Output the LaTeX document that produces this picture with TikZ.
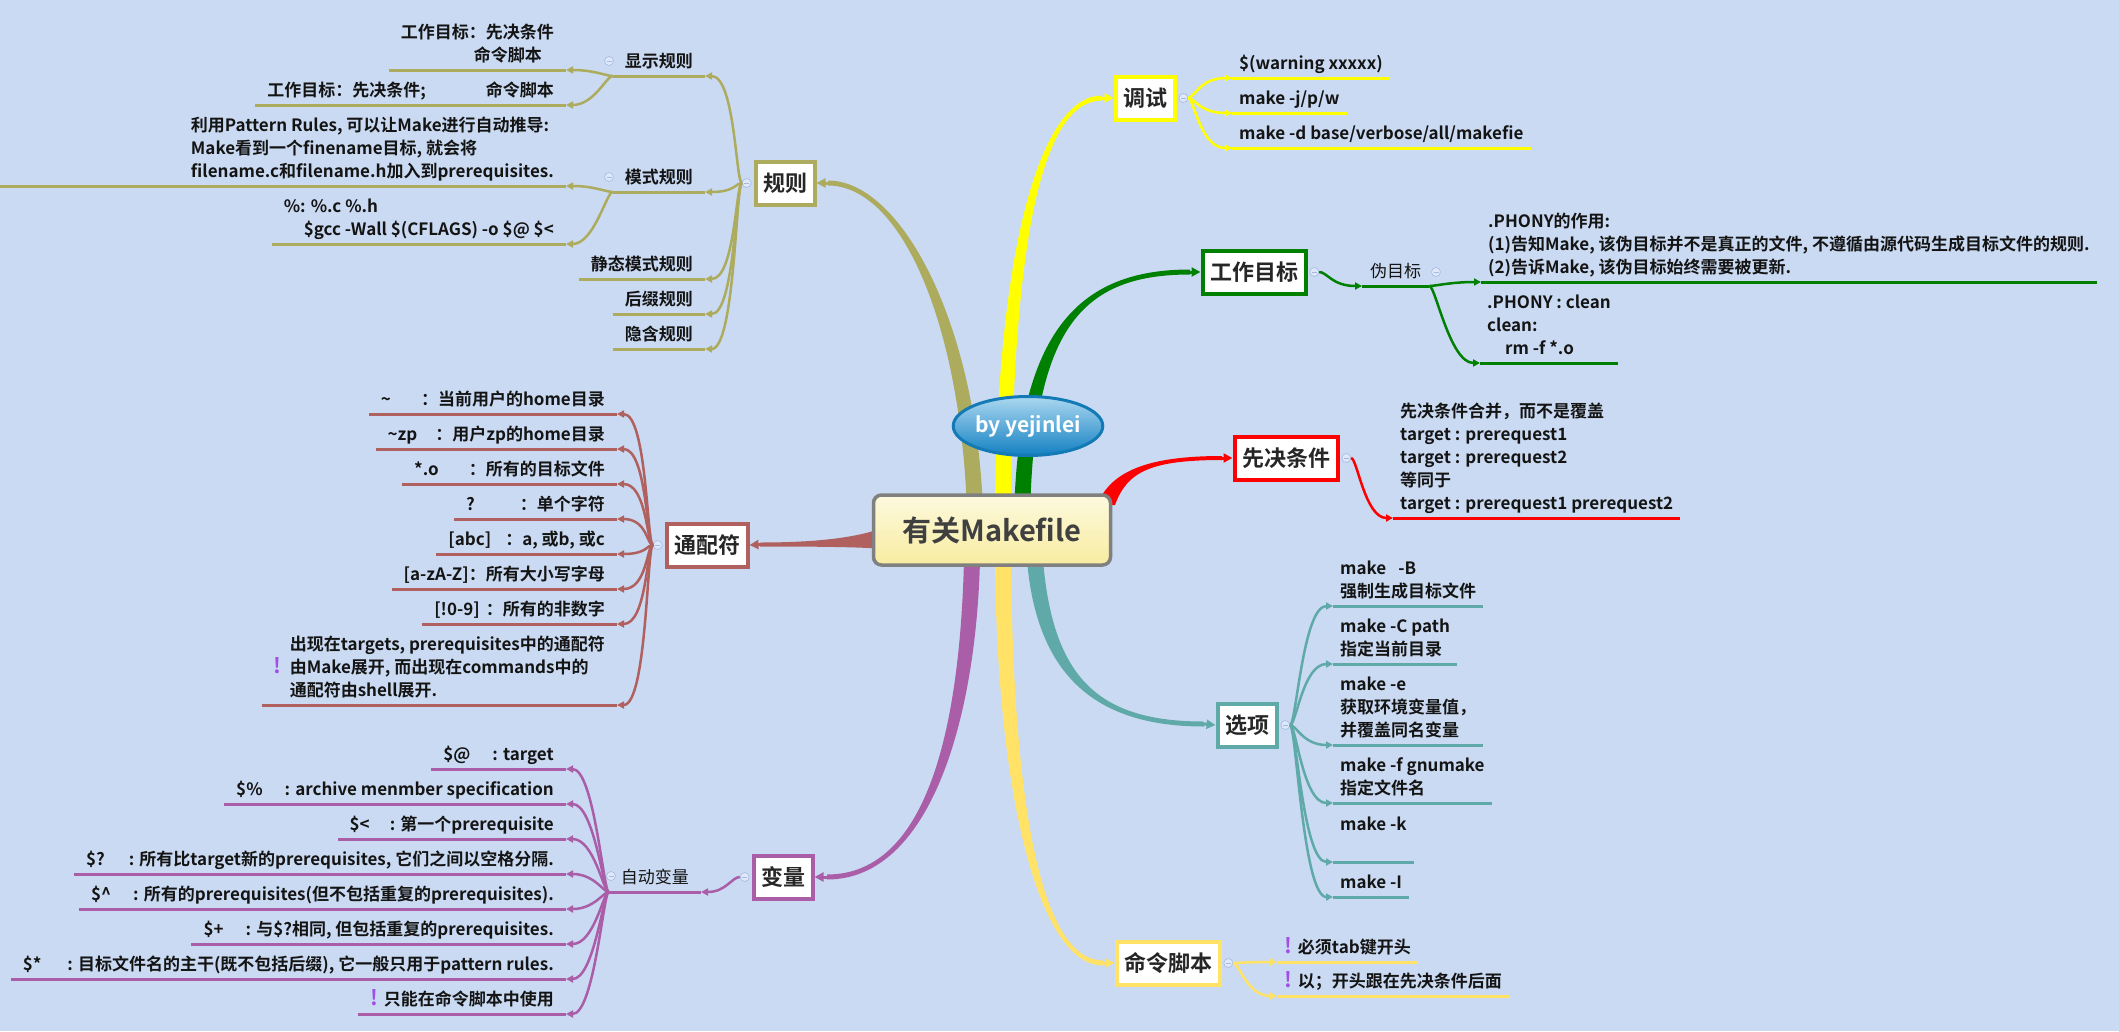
\documentclass[tikz,border=0pt]{standalone}
\usepackage{fontspec}
\setmainfont{Noto Sans CJK SC}[BoldFont={Noto Sans CJK SC Bold}]
\usetikzlibrary{arrows.meta, positioning, shapes.geometric, calc}

\definecolor{bgc}{RGB}{202,218,242}
\definecolor{rulec}{RGB}{173,171,94}
\definecolor{dbgc}{RGB}{255,255,0}
\definecolor{targetc}{RGB}{0,128,0}
\definecolor{prereqc}{RGB}{255,0,0}
\definecolor{wildc}{RGB}{176,96,94}
\definecolor{varc}{RGB}{170,94,168}
\definecolor{scriptc}{RGB}{255,226,102}
\definecolor{optc}{RGB}{95,170,168}
\definecolor{warnc}{RGB}{160,80,230}
\definecolor{textc}{RGB}{20,20,20}
\definecolor{btnc}{RGB}{165,185,225}
\definecolor{btnfill}{RGB}{222,232,250}

\newcommand{\leaffont}{\fontsize{17}{23}\selectfont\bfseries}
\newcommand{\plainfont}{\fontsize{17}{23}\selectfont}
\newcommand{\topicfont}{\fontsize{22}{26}\selectfont\bfseries}
\newcommand{\warnmark}{\textcolor{warnc}{\fontsize{21}{21}\selectfont\bfseries !}}

\tikzset{
  topic/.style={draw=#1, line width=4pt, fill=white, font=\topicfont,
    text={rgb,255:red,38;green,38;blue,38}, inner xsep=7.5pt, minimum height=43pt},
  leafL/.style={font=\leaffont, text=textc, inner xsep=12pt, inner ysep=1.5pt,
    anchor=south east, execute at end node=\strut},
  leafR/.style={font=\leaffont, text=textc, inner xsep=7pt, inner ysep=1.5pt,
    anchor=south west, execute at end node=\strut},
  ul/.style={draw=#1, line width=3pt},
  con/.style={draw=#1, line width=2.5pt, -{Triangle[length=7pt,width=7pt]}},
  tip/.style={draw=#1, line width=3pt, -{Triangle[length=9pt,width=9pt]}},
  btn/.style={circle, draw=btnc, fill=btnfill, minimum size=9pt, inner sep=0pt,
    line width=0.6pt, path picture={
      \draw[btnc, line width=0.7pt] ([xshift=2pt]path picture bounding box.west)
        -- ([xshift=-2pt]path picture bounding box.east);}}
}

\begin{document}
\begin{tikzpicture}[x=1pt, y=-1pt]
  \fill[bgc] (0,0) rectangle (2119,1031);
  \useasboundingbox (0,0) rectangle (2119,1031);
  \coordinate (edge-left) at (0,0);

  % tapered trunks, under the root box
  \fill[rulec] (967,510) .. controls (960,320) and (900,185.5) .. (828,185.5)
    -- (828,180.5) .. controls (900,180.5) and (976,320) .. (983,510) -- cycle;
  \fill[dbgc] (995,510) .. controls (997,250) and (1040,95.5) .. (1102,95.5)
    -- (1102,100.5) .. controls (1040,100.5) and (1013,250) .. (1011,510) -- cycle;
  \fill[targetc] (1014,520) .. controls (1017,330) and (1080,269.5) .. (1190,269.5)
    -- (1190,274.5) .. controls (1080,274.5) and (1033,330) .. (1030,520) -- cycle;
  \fill[prereqc] (1097,505) .. controls (1111,470) and (1150,456) .. (1222,456)
    -- (1222,460) .. controls (1150,460) and (1127,472) .. (1115,505) -- cycle;
  \fill[wildc] (885,527) .. controls (860,537) and (820,542.5) .. (760,542.5)
    -- (760,546.5) .. controls (820,546.5) and (860,547) .. (885,549) -- cycle;
  \fill[varc] (980,560) .. controls (976,720) and (930,879.5) .. (827,879.5)
    -- (827,874.5) .. controls (930,874.5) and (960,720) .. (964,560) -- cycle;
  \fill[scriptc] (1011,560) .. controls (1013,800) and (1040,960.5) .. (1103,960.5)
    -- (1103,965.5) .. controls (1040,965.5) and (997,800) .. (995,560) -- cycle;
  \fill[optc] (1043,560) .. controls (1053,680) and (1100,721.5) .. (1204,721.5)
    -- (1204,726.5) .. controls (1100,726.5) and (1037,680) .. (1027,560) -- cycle;

  % root and signature
  \node[draw={rgb,255:red,128;green,128;blue,128}, line width=3.5pt, rounded corners=8pt,
    top color={rgb,255:red,253;green,249;blue,222}, bottom color={rgb,255:red,248;green,236;blue,160},
    minimum width=237pt, minimum height=70pt, font=\fontsize{29}{34}\selectfont\bfseries,
    text={rgb,255:red,64;green,64;blue,64}] (center) at (992,530) {有关Makefile};
  \node[ellipse, draw={rgb,255:red,20;green,122;blue,182}, line width=3pt,
    top color={rgb,255:red,172;green,216;blue,240}, bottom color={rgb,255:red,18;green,128;blue,194},
    minimum width=140pt, minimum height=59pt, inner sep=0pt,
    font=\fontsize{21}{24}\selectfont\bfseries, text=white] (author) at (1028,426) {by yejinlei};

  % main topics
  \node[topic=rulec] (rules) at (785,183) {规则};
  \node[topic=wildc] (wild) at (707,545) {通配符};
  \node[topic=varc] (vars) at (783,877) {变量};
  \node[topic=dbgc] (dbg) at (1145,98) {调试};
  \node[topic=targetc] (target) at (1254,272) {工作目标};
  \node[topic=prereqc] (prereq) at (1286,458) {先决条件};
  \node[topic=optc] (opts) at (1247,725) {选项};
  \node[topic=scriptc] (script) at (1168,963) {命令脚本};

  \coordinate (rules-in) at (828,183);
  \coordinate (dbg-in) at (1102,98);
  \coordinate (target-in) at (1190,272);
  \coordinate (prereq-in) at (1222,458);
  \coordinate (wild-in) at (760,544.5);
  \coordinate (vars-in) at (827,877);
  \coordinate (script-in) at (1103,963);
  \coordinate (opts-in) at (1204,724);
  \draw[tip=rulec] (rules-in) -- (rules.east);
  \draw[tip=dbgc] (dbg-in) -- (dbg.west);
  \draw[tip=targetc] (target-in) -- (target.west);
  \draw[tip=prereqc] (prereq-in) -- (prereq.west);
  \draw[tip=wildc] (wild-in) -- (wild.east);
  \draw[tip=varc] (vars-in) -- (vars.east);
  \draw[tip=scriptc] (script-in) -- (script.west);
  \draw[tip=optc] (opts-in) -- (opts.west);

  % rules
  \node[leafL, anchor=south east] (show) at (705,76) {显示规则};
  \node[leafL, anchor=south east] (pattern) at (705,192) {模式规则};
  \node[leafL, anchor=south east] (static) at (705,279) {静态模式规则};
  \node[leafL, anchor=south east] (suffix) at (705,314) {后缀规则};
  \node[leafL, anchor=south east] (implicit) at (705,349) {隐含规则};
  \node[leafL, align=right] (show1) at (566,70) {工作目标：先决条件\\命令脚本\hspace*{12pt}};
  \node[leafL] (show2) at (566,105) {工作目标：先决条件;\hspace*{60pt}命令脚本};
  \node[leafL, align=left] (pattern1) at (566,186)
    {利用Pattern Rules, 可以让Make进行自动推导:\\Make看到一个finename目标, 就会将\\filename.c和filename.h加入到prerequisites.};
  \node[leafL, align=left] (pattern2) at (566,244)
    {\%: \%.c \%.h\\\hspace*{20pt}\$gcc -Wall \$(CFLAGS) -o \$@ \$<};

  % wildcards
  \node[leafL] (w1) at (617,414) {\textasciitilde\hspace*{30pt}：当前用户的home目录};
  \node[leafL] (w2) at (617,449) {\textasciitilde zp\hspace*{18pt}：用户zp的home目录};
  \node[leafL] (w3) at (617,484) {*.o\hspace*{30pt}：所有的目标文件};
  \node[leafL] (w4) at (617,519) {?\hspace*{45pt}：单个字符};
  \node[leafL] (w5) at (617,554) {[abc]\hspace*{14pt}：a, 或b, 或c};
  \node[leafL] (w6) at (617,589) {[a-zA-Z]：所有大小写字母};
  \node[leafL] (w7) at (617,624) {[!0-9]\hspace*{6pt}：所有的非数字};
  \node[leafL] (w8) at (617,705) {\warnmark\hspace*{8pt}\begin{tabular}[c]{@{}l@{}}
    出现在targets, prerequisites中的通配符\\由Make展开, 而出现在commands中的\\通配符由shell展开.\end{tabular}};

  % variables
  \node[leafL, font=\plainfont] (autovar) at (701,892) {自动变量};
  \node[leafL] (v1) at (566,769) {\$@\hspace*{22pt}: target};
  \node[leafL] (v2) at (566,804) {\$\%\hspace*{22pt}: archive menmber specification};
  \node[leafL] (v3) at (566,839) {\$<\hspace*{20pt}: 第一个prerequisite};
  \node[leafL] (v4) at (566,874) {\$?\hspace*{24pt}: 所有比target新的prerequisites, 它们之间以空格分隔.};
  \node[leafL] (v5) at (566,909) {\$\textasciicircum\hspace*{22pt}: 所有的prerequisites(但不包括重复的prerequisites).};
  \node[leafL] (v6) at (566,944) {\$+\hspace*{22pt}: 与\$?相同, 但包括重复的prerequisites.};
  \node[leafL] (v7) at (566,979) {\$*\hspace*{26pt}: 目标文件名的主干(既不包括后缀), 它一般只用于pattern rules.};
  \node[leafL] (v8) at (566,1014) {\warnmark\hspace*{6pt}只能在命令脚本中使用};

  % debugging
  \node[leafR] (d1) at (1232,78) {\$(warning xxxxx)};
  \node[leafR] (d2) at (1232,113) {make -j/p/w};
  \node[leafR] (d3) at (1232,148) {make -d base/verbose/all/makefie};

  % targets
  \node[leafR, font=\plainfont, inner xsep=8pt] (phony) at (1362,286) {伪目标};
  \node[leafR, align=left] (p1) at (1481,282)
    {.PHONY的作用:\\(1)告知Make, 该伪目标并不是真正的文件, 不遵循由源代码生成目标文件的规则.\\(2)告诉Make, 该伪目标始终需要被更新.};
  \node[leafR, align=left] (p2) at (1480,363) {.PHONY : clean\\clean:\\\hspace*{18pt}rm -f *.o};

  % prerequisites
  \node[leafR, align=left] (q1) at (1393,518)
    {先决条件合并，而不是覆盖\\target : prerequest1\\target : prerequest2\\等同于\\target : prerequest1 prerequest2};

  % options
  \node[leafR, align=left] (o1) at (1333,606) {make\hspace*{12pt}-B\\强制生成目标文件};
  \node[leafR, align=left] (o2) at (1333,664) {make -C path\\指定当前目录};
  \node[leafR, align=left] (o3) at (1333,745) {make -e\\获取环境变量值，\\并覆盖同名变量};
  \node[leafR, align=left] (o4) at (1333,803) {make -f gnumake\\指定文件名};
  \node[leafR, align=left] (o5) at (1333,862) {make -k\\\mbox{}};
  \node[leafR] (o6) at (1333,897) {make -I};

  % command scripts
  \node[leafR] (c1) at (1277,962) {\warnmark\hspace*{6pt}必须tab键开头};
  \node[leafR] (c2) at (1277,996) {\warnmark\hspace*{6pt}以；开头跟在先决条件后面};

  % underlines
  \foreach \n in {show,pattern,static,suffix,implicit,show1,show2,pattern2}
    \draw[ul=rulec] (\n.south west) -- (\n.south east);
  \draw[ul=rulec] (pattern1.south east) -- (pattern1.south east -| edge-left);
  \foreach \n in {w1,w2,w3,w4,w5,w6,w7,w8}
    \draw[ul=wildc] (\n.south west) -- (\n.south east);
  \foreach \n in {autovar,v1,v2,v3,v4,v5,v6,v7,v8}
    \draw[ul=varc] (\n.south west) -- (\n.south east);
  \foreach \n in {d1,d2,d3}
    \draw[ul=dbgc] (\n.south west) -- (\n.south east);
  \foreach \n in {phony,p1,p2}
    \draw[ul=targetc] (\n.south west) -- (\n.south east);
  \draw[ul=prereqc] (q1.south west) -- (q1.south east);
  \foreach \n in {o1,o2,o3,o4,o5,o6}
    \draw[ul=optc] (\n.south west) -- (\n.south east);
  \foreach \n in {c1,c2}
    \draw[ul=scriptc] (\n.south west) -- (\n.south east);

  % collapse buttons
  \node[btn, left=2pt of rules] (rules-btn) {};
  \node[btn, left=2pt of wild] (wild-btn) {};
  \node[btn, left=2pt of vars] (vars-btn) {};
  \node[btn, right=2pt of dbg] (dbg-btn) {};
  \node[btn, right=2pt of target] (target-btn) {};
  \node[btn, right=2pt of prereq] (prereq-btn) {};
  \node[btn, right=2pt of opts] (opts-btn) {};
  \node[btn, right=2pt of script] (script-btn) {};
  \node[btn] (show-btn) at (609,61) {};
  \node[btn] (pattern-btn) at (609,177) {};
  \node[btn] (autovar-btn) at (611,876) {};
  \node[btn] (phony-btn) at (1436,272) {};

  % connectors
  \foreach \n in {show,pattern,static,suffix,implicit}
    \draw[con=rulec] (rules-btn.west) .. controls +(-6,0) and +(30,0) .. (\n.south east);
  \foreach \n in {show1,show2}
    \draw[con=rulec] (show.south west) .. controls +(-6,0) and +(28,0) .. (\n.south east);
  \foreach \n in {pattern1,pattern2}
    \draw[con=rulec] (pattern.south west) .. controls +(-6,0) and +(28,0) .. (\n.south east);
  \foreach \n in {w1,w2,w3,w4,w5,w6,w7,w8}
    \draw[con=wildc] (wild-btn.west) .. controls +(-6,0) and +(30,0) .. (\n.south east);
  \draw[con=varc] (vars-btn.west) .. controls +(-8,0) and +(25,0) .. (autovar.south east);
  \foreach \n in {v1,v2,v3,v4,v5,v6,v7,v8}
    \draw[con=varc] (autovar.south west) .. controls +(-5,0) and +(28,0) .. (\n.south east);
  \foreach \n in {d1,d2,d3}
    \draw[con=dbgc] (dbg-btn.east) .. controls +(6,0) and +(-32,0) .. (\n.south west);
  \draw[con=targetc] (target-btn.east) .. controls +(8,0) and +(-30,0) .. (phony.south west);
  \foreach \n in {p1,p2}
    \draw[con=targetc] (phony.south east) .. controls +(6,0) and +(-30,0) .. (\n.south west);
  \draw[con=prereqc] (prereq-btn.east) .. controls +(6,0) and +(-28,0) .. (q1.south west);
  \foreach \n in {o1,o2,o3,o4,o5,o6}
    \draw[con=optc] (opts-btn.east) .. controls +(6,0) and +(-30,0) .. (\n.south west);
  \foreach \n in {c1,c2}
    \draw[con=scriptc] (script-btn.east) .. controls +(6,0) and +(-30,0) .. (\n.south west);
\end{tikzpicture}
\end{document}
